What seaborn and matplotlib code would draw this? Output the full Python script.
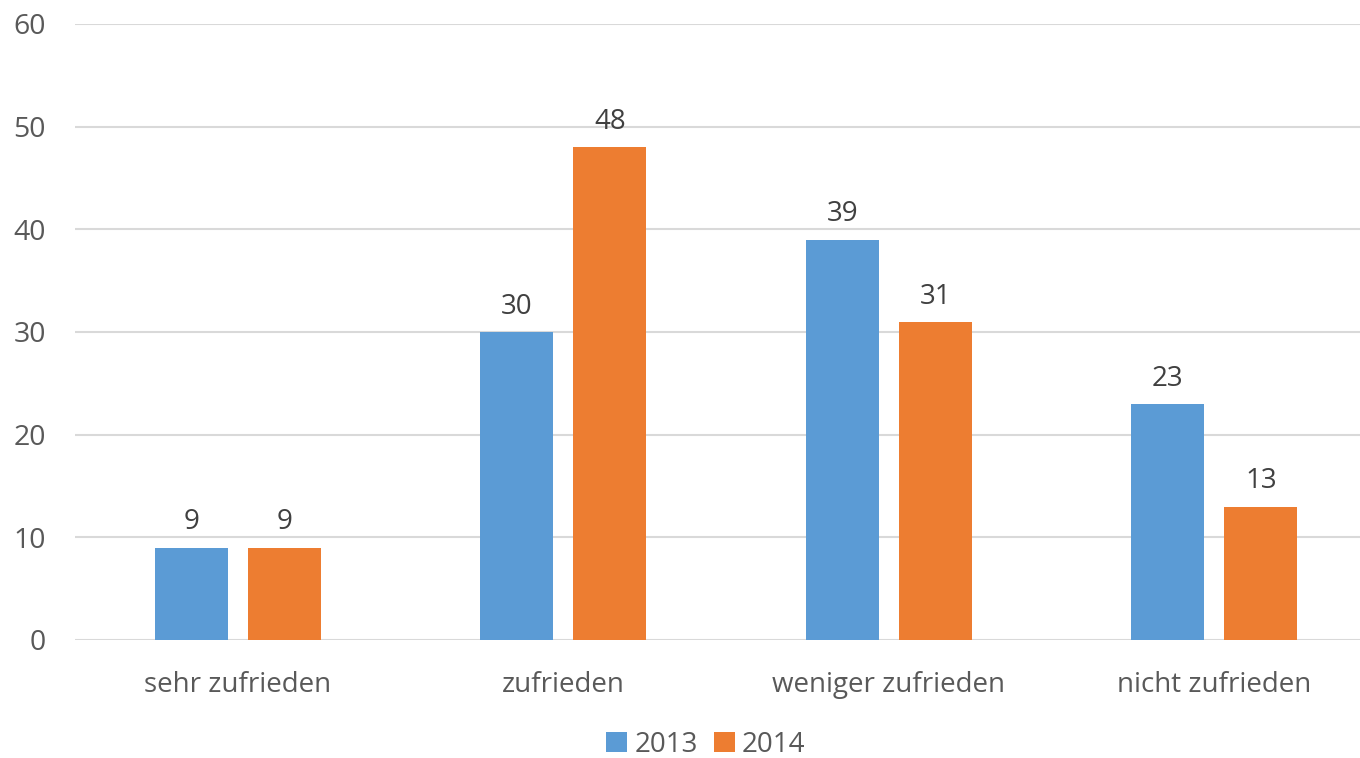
import pandas as pd
import seaborn as sns
import matplotlib.pyplot as plt

# Chart data
categories = ['sehr zufrieden', 'zufrieden', 'weniger zufrieden', 'nicht zufrieden']
years = ['2013', '2014']
values_2013 = [9, 30, 39, 23]
values_2014 = [9, 48, 31, 13]
y_ticks = [0, 10, 20, 30, 40, 50, 60]

colors = {'2013': '#5B9BD5', '2014': '#ED7D31'}

df = pd.DataFrame({
    'Kategorie': categories * 2,
    'Jahr': ['2013'] * len(categories) + ['2014'] * len(categories),
    'Wert': values_2013 + values_2014,
})

sns.set_style('white')
plt.rcParams['font.family'] = ['Open Sans', 'DejaVu Sans']

fig = plt.figure(figsize=(13.6, 7.58), dpi=100)
W, H = 1360, 758
ax = fig.add_axes([75 / W, (H - 640) / H, 1302 / W, (640 - 24) / H])

sns.barplot(data=df, x='Kategorie', y='Wert', hue='Jahr', order=categories,
            hue_order=years, palette=colors, width=0.572, gap=0.217,
            saturation=1, linewidth=0, ax=ax, legend=True)

for container in ax.containers:
    ax.bar_label(container, fmt='%g', padding=8, fontsize=20, color='#404040')

ax.set_xlim(-0.5, 3.5)
ax.set_ylim(0, 60)
ax.set_yticks(y_ticks)
ax.set_xlabel('')
ax.set_ylabel('')
ax.yaxis.grid(True, color='#D9D9D9', linewidth=1.5)
ax.set_axisbelow(True)
for s in ax.spines.values():
    s.set_visible(False)
ax.tick_params(axis='y', length=0, pad=21, labelsize=20.5, labelcolor='#595959')
ax.tick_params(axis='x', length=0, pad=22, labelsize=20, labelcolor='#595959')

handles, labels = ax.get_legend_handles_labels()
ax.get_legend().remove()
fig.legend(handles, labels, loc='center', bbox_to_anchor=(706 / W, (H - 745) / H),
           ncol=2, frameon=False, fontsize=20, labelcolor='#595959',
           handlelength=0.75, handleheight=0.75, handletextpad=0.25, columnspacing=0.6)

plt.savefig('out.png', dpi=100)
